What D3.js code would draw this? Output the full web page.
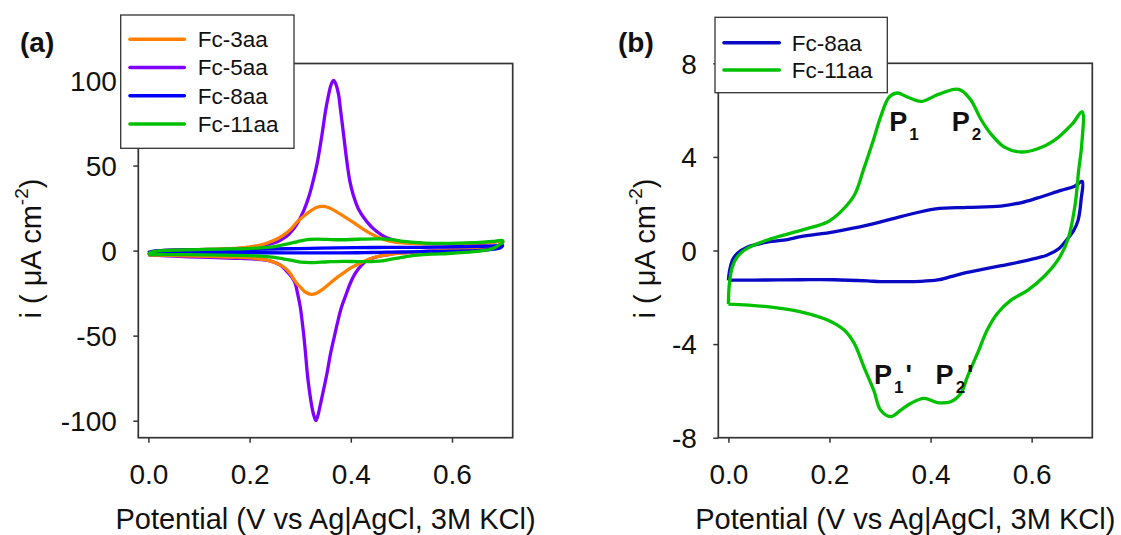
<!DOCTYPE html>
<html>
<head>
<meta charset="utf-8">
<script src="https://cdn.jsdelivr.net/npm/d3@7"></script>
<style>
  body { margin: 0; background: #fff; }
  svg { display: block; font-family: "Liberation Sans", Arial, sans-serif; }
</style>
</head>
<body>
<svg id="chart" width="1121" height="535"></svg>
<script>
// Cyclic voltammograms: [potential (V), current density (µA cm^-2)] in scan order
const fc3aa = [
  [0.000,-2.5],[0.005,-1.0],[0.02,-0.2],[0.06,0.3],[0.10,0.6],[0.15,1.0],[0.19,1.8],[0.221,3.2],
  [0.245,5.6],[0.267,9.1],[0.282,12.8],[0.294,16.9],[0.308,20.5],[0.320,23.2],[0.332,25.3],[0.344,26.0],
  [0.357,25.2],[0.372,22.8],[0.388,19.8],[0.405,16.6],[0.425,12.5],[0.445,9.1],[0.465,6.6],[0.484,5.2],
  [0.52,4.3],[0.56,4.0],[0.60,4.0],[0.64,4.2],[0.67,4.6],[0.700,5.2],
  [0.698,3.8],[0.69,2.8],[0.67,2.0],[0.64,1.2],[0.60,0.4],[0.55,-0.5],[0.50,-1.5],[0.471,-2.5],
  [0.451,-3.6],[0.435,-5.2],[0.418,-7.4],[0.400,-10.2],[0.385,-13.3],[0.370,-16.5],[0.359,-19.2],
  [0.345,-22.6],[0.333,-24.9],[0.322,-25.7],[0.311,-24.5],[0.302,-22.0],[0.293,-19.2],[0.286,-16.2],
  [0.280,-13.3],[0.268,-9.8],[0.254,-7.4],[0.235,-5.6],[0.21,-4.5],[0.17,-3.8],[0.12,-3.4],[0.06,-3.0],[0.000,-2.5]
];
const fc5aa = [
  [0.000,-2.5],[0.005,-1.0],[0.02,-0.1],[0.06,0.3],[0.10,0.6],[0.15,0.9],[0.19,1.5],[0.22,2.5],
  [0.24,3.8],[0.254,5.0],[0.266,7.0],[0.277,9.5],[0.287,12.8],[0.296,16.9],[0.307,23.5],[0.318,32.6],
  [0.326,41.5],[0.334,52.0],[0.343,68.0],[0.350,82.0],[0.356,91.4],[0.361,97.5],[0.366,100.0],
  [0.371,97.5],[0.376,91.4],[0.380,82.0],[0.385,70.0],[0.392,53.0],[0.398,41.0],[0.405,32.6],
  [0.415,24.5],[0.432,16.9],[0.45,11.5],[0.471,7.5],[0.50,5.2],[0.54,4.3],[0.58,4.0],[0.62,4.0],
  [0.66,4.4],[0.700,5.2],
  [0.698,3.8],[0.69,2.8],[0.67,2.0],[0.64,1.3],[0.60,0.6],[0.55,-0.3],[0.51,-1.2],[0.48,-2.0],
  [0.462,-3.0],[0.446,-4.2],[0.432,-5.8],[0.420,-9.0],[0.409,-13.3],[0.399,-19.2],[0.391,-25.5],
  [0.382,-32.9],[0.374,-42.0],[0.366,-52.5],[0.359,-62.0],[0.353,-72.1],[0.346,-82.0],[0.339,-91.7],
  [0.335,-97.0],[0.331,-100.0],[0.327,-97.0],[0.323,-91.7],[0.318,-82.0],[0.314,-72.1],[0.311,-62.0],
  [0.308,-52.5],[0.304,-42.0],[0.300,-32.9],[0.295,-25.5],[0.290,-19.2],[0.284,-15.8],[0.277,-13.3],
  [0.260,-8.4],[0.240,-6.0],[0.21,-5.0],[0.17,-4.5],[0.12,-4.0],[0.06,-3.4],[0.000,-2.5]
];
const fc8aa = [
  [0.000,-1.28],[0.002,-0.90],[0.008,-0.41],[0.018,-0.12],[0.037,0.14],[0.077,0.36],[0.117,0.47],
  [0.143,0.59],[0.209,0.80],[0.275,1.08],[0.341,1.45],[0.410,1.78],[0.473,1.84],[0.539,1.90],
  [0.580,2.05],[0.612,2.25],[0.658,2.57],[0.685,2.75],[0.700,2.95],
  [0.698,2.20],[0.692,1.30],[0.683,0.85],[0.671,0.50],[0.655,0.10],[0.630,-0.20],[0.605,-0.35],
  [0.575,-0.50],[0.540,-0.65],[0.500,-0.82],[0.470,-0.95],[0.440,-1.12],[0.414,-1.26],[0.380,-1.32],
  [0.341,-1.33],[0.300,-1.33],[0.275,-1.30],[0.209,-1.25],[0.143,-1.25],[0.077,-1.26],[0.011,-1.27],[0.000,-1.28]
];
const fc11aa = [
  [0.000,-2.29],[0.002,-1.40],[0.008,-0.69],[0.018,-0.26],[0.037,0.09],[0.077,0.45],[0.143,0.86],
  [0.196,1.22],[0.222,1.65],[0.249,2.36],[0.268,3.50],[0.288,4.80],[0.301,5.70],[0.318,6.55],
  [0.334,6.73],[0.354,6.56],[0.381,6.37],[0.414,6.66],[0.447,6.89],[0.460,6.85],[0.480,6.42],
  [0.499,5.63],[0.519,4.99],[0.546,4.42],[0.579,4.21],[0.612,4.35],[0.645,4.71],[0.680,5.40],[0.700,5.93],
  [0.699,4.50],[0.693,3.42],[0.686,1.96],[0.672,0.49],[0.655,-0.30],[0.625,-1.10],[0.592,-1.70],
  [0.559,-2.12],[0.532,-2.69],[0.512,-3.40],[0.493,-4.39],[0.473,-5.39],[0.460,-6.10],[0.440,-6.46],
  [0.414,-6.50],[0.387,-6.32],[0.361,-6.53],[0.341,-6.82],[0.321,-7.10],[0.301,-6.82],[0.288,-6.00],
  [0.268,-4.97],[0.249,-3.97],[0.229,-3.40],[0.196,-2.97],[0.143,-2.62],[0.077,-2.40],[0.000,-2.29]
];

const xTicks = [0.0, 0.2, 0.4, 0.6];
const yTicksA = [-100, -50, 0, 50, 100];
const yTicksB = [-8, -4, 0, 4, 8];

// Peak labels in panel (b): base letter, subscript, prime, anchor in data units
const peakLabels = [
  { base: "P", sub: "1", prime: "",  E: 0.318, i: 5.11 },
  { base: "P", sub: "2", prime: "",  E: 0.442, i: 5.11 },
  { base: "P", sub: "1", prime: "'", E: 0.288, i: -5.71 },
  { base: "P", sub: "2", prime: "'", E: 0.410, i: -5.71 }
];

const svg = d3.select("#chart");
const ink = "#111";
const frameColor = "#333";

const panels = [
  {
    tag: "(a)", tagX: 20, left: 138.3, top: 63.5, width: 374.4, height: 374.2,
    yDomain: [-110, 110], yTicks: yTicksA, yTitleX: 41,
    series: [
      { name: "Fc-5aa", data: fc5aa, color: "#8000ff" },
      { name: "Fc-3aa", data: fc3aa, color: "#ff8000" },
      { name: "Fc-8aa", data: fc8aa, color: "#0000ff" },
      { name: "Fc-11aa", data: fc11aa, color: "#00c000" }
    ],
    legendOrder: ["Fc-3aa", "Fc-5aa", "Fc-8aa", "Fc-11aa"],
    legend: { x: 120.7, y: 15, w: 173.3, h: 133.3, rowY: 39.3, rowGap: 28.25, lineX0: 130, lineX1: 184.3, textX: 197.7 }
  },
  {
    tag: "(b)", tagX: 618, left: 718.3, top: 63.3, width: 374, height: 374.4,
    yDomain: [-8, 8], yTicks: yTicksB, yTitleX: 654.6,
    series: [
      { name: "Fc-8aa", data: fc8aa, color: "#0a0ac4" },
      { name: "Fc-11aa", data: fc11aa, color: "#00c000" }
    ],
    legendOrder: ["Fc-8aa", "Fc-11aa"],
    legend: { x: 715, y: 17.3, w: 172.3, h: 75.4, rowY: 42.7, rowGap: 27.3, lineX0: 724, lineX1: 779.3, textX: 791.7 },
    peaks: peakLabels
  }
];

panels.forEach(p => {
  const x = d3.scaleLinear().domain([-0.02, 0.72]).range([p.left, p.left + p.width]);
  const y = d3.scaleLinear().domain(p.yDomain).range([p.top + p.height, p.top]);
  const g = svg.append("g");

  // axes with outward ticks
  const xAxis = g.append("g")
    .attr("transform", `translate(0,${p.top + p.height})`)
    .call(d3.axisBottom(x).tickValues(xTicks).tickSize(5).tickPadding(21).tickFormat(d3.format(".1f")));
  const yAxis = g.append("g")
    .attr("transform", `translate(${p.left},0)`)
    .call(d3.axisLeft(y).tickValues(p.yTicks).tickSize(5).tickPadding(16.5).tickFormat(d => String(d)));
  [xAxis, yAxis].forEach(a => {
    a.select(".domain").remove();
    a.selectAll(".tick line").attr("stroke", frameColor).attr("stroke-width", 1.5);
    a.selectAll(".tick text").attr("fill", ink).attr("font-size", 28)
      .attr("font-family", '"Liberation Sans", Arial, sans-serif');
  });
  yAxis.selectAll(".tick text").attr("dy", "0.35em");

  // frame
  g.append("rect")
    .attr("x", p.left).attr("y", p.top).attr("width", p.width).attr("height", p.height)
    .attr("fill", "none").attr("stroke", frameColor).attr("stroke-width", 1.7);

  // curves
  const line = d3.line()
    .x(d => x(d[0])).y(d => y(d[1]))
    .curve(d3.curveCatmullRom.alpha(0.5));
  p.series.forEach(s => {
    g.append("path")
      .datum(s.data)
      .attr("d", line)
      .attr("fill", "none")
      .attr("stroke", s.color)
      .attr("stroke-width", 3.3)
      .attr("stroke-linejoin", "round");
  });

  // peak labels
  if (p.peaks) {
    p.peaks.forEach(pk => {
      const t = g.append("text")
        .attr("x", x(pk.E)).attr("y", y(pk.i))
        .attr("font-size", 27).attr("font-weight", "bold").attr("fill", ink);
      t.append("tspan").text(pk.base);
      t.append("tspan").attr("dx", 2).attr("dy", 9).attr("font-size", 17).text(pk.sub);
      if (pk.prime) t.append("tspan").attr("dx", 2).attr("dy", -9).text(pk.prime);
    });
  }

  // legend
  const L = p.legend;
  const lg = g.append("g");
  lg.append("rect")
    .attr("x", L.x).attr("y", L.y).attr("width", L.w).attr("height", L.h)
    .attr("fill", "#fff").attr("stroke", frameColor).attr("stroke-width", 1.3);
  p.legendOrder.forEach((name, k) => {
    const s = p.series.find(d => d.name === name);
    const ry = L.rowY + k * L.rowGap;
    lg.append("line")
      .attr("x1", L.lineX0).attr("x2", L.lineX1).attr("y1", ry).attr("y2", ry)
      .attr("stroke", s.color).attr("stroke-width", 3.6).attr("stroke-linecap", "round");
    lg.append("text")
      .attr("x", L.textX).attr("y", ry).attr("dy", "0.35em")
      .attr("font-size", 22.5).attr("fill", ink).text(name);
  });

  // axis titles
  g.append("text")
    .attr("x", p.left + p.width / 2).attr("y", 529)
    .attr("text-anchor", "middle").attr("font-size", 29).attr("fill", ink)
    .text("Potential (V vs Ag|AgCl, 3M KCl)");

  const yt = g.append("text")
    .attr("transform", `translate(${p.yTitleX},${p.top + p.height / 2 - 2}) rotate(-90)`)
    .attr("text-anchor", "middle").attr("font-size", 29).attr("fill", ink);
  yt.append("tspan").text("i ( \u03bcA cm");
  yt.append("tspan").attr("font-size", 19).attr("dy", -13).text("-2");
  yt.append("tspan").attr("dy", 13).text(")");

  // panel tag
  g.append("text")
    .attr("x", p.tagX).attr("y", 52)
    .attr("font-size", 28).attr("font-weight", "bold").attr("fill", ink)
    .text(p.tag);
});
</script>
</body>
</html>
